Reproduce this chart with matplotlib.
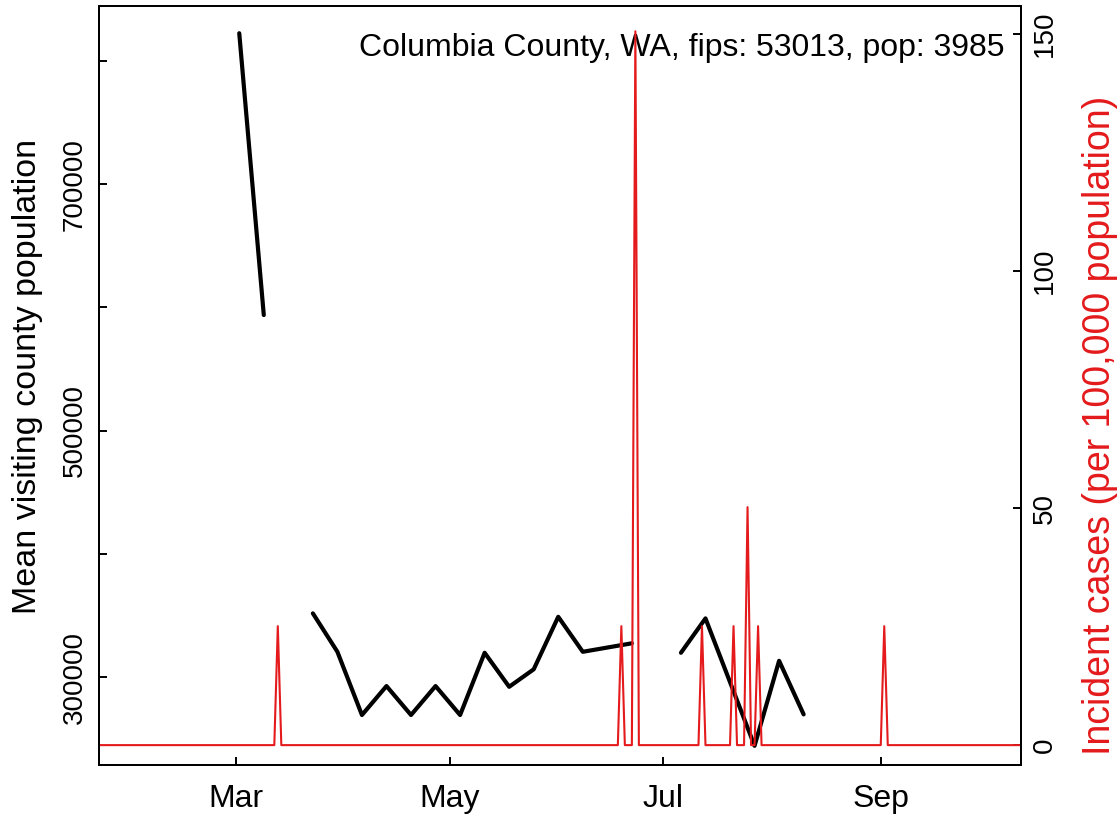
import numpy as np
import matplotlib
matplotlib.use('Agg')
import matplotlib.pyplot as plt

plt.rcParams['font.family'] = ['Liberation Sans', 'DejaVu Sans']
plt.rcParams['font.size'] = 20

# weekly mean visiting county population (NaN = gap in line)
visit_dates = ['2020-03-02', '2020-03-09', '2020-03-16', '2020-03-23', '2020-03-30',
               '2020-04-06', '2020-04-13', '2020-04-20', '2020-04-27', '2020-05-04',
               '2020-05-11', '2020-05-18', '2020-05-25', '2020-06-01', '2020-06-08',
               '2020-06-22', '2020-06-29', '2020-07-06', '2020-07-13', '2020-07-27',
               '2020-08-03', '2020-08-10']
visit_pop = [822500, 593800, np.nan, 351700, 320500,
             269200, 292700, 269200, 292700, 269200,
             319700, 292100, 306300, 348900, 320500,
             327400, np.nan, 319700, 347600, 244200,
             313200, 269700]

# daily incident cases per 100,000 (zero except on these days)
case_start = '2020-01-22'
case_end = '2020-10-11'
spike_dates = ['2020-03-13', '2020-06-19', '2020-06-23', '2020-07-12',
               '2020-07-21', '2020-07-25', '2020-07-28', '2020-09-02']
spike_vals = [25.09, 25.09, 150.56, 25.09, 25.09, 50.19, 25.09, 25.09]

month_ticks = ['2020-03-01', '2020-05-01', '2020-07-01', '2020-09-01']
month_labels = ['Mar', 'May', 'Jul', 'Sep']
left_ticks = [300000, 400000, 500000, 600000, 700000, 800000]
left_labels = ['300000', '', '500000', '', '700000', '']
right_ticks = [0, 50, 100, 150]

red = '#E41A1C'

vd = np.array(visit_dates, dtype='datetime64[D]')
cd = np.arange(np.datetime64(case_start), np.datetime64(case_end) + 1)
cases = np.zeros(len(cd))
for d, v in zip(spike_dates, spike_vals):
    cases[cd == np.datetime64(d)] = v

fig = plt.figure(figsize=(11.19, 8.22), dpi=100)
ax = fig.add_axes([0.0885, 0.0693, 0.8239, 0.9234])
ax.plot(vd, visit_pop, color='black', lw=3, solid_capstyle='round')
ax.set_ylim(228600, 844600)
ax.set_xlim(cd[0], cd[-1])
ax.set_yticks(left_ticks)
ax.set_yticklabels(left_labels, rotation=90, va='center')
ax.set_xticks(np.array(month_ticks, dtype='datetime64[D]'))
ax.set_xticklabels(month_labels, fontsize=23)
ax.set_ylabel('Mean visiting county population', fontsize=24.5)
ax.yaxis.set_label_coords(-0.061, 0.5125)
ax.tick_params(direction='in', length=6, width=1.4, pad=8)
ax.tick_params(axis='x', pad=14)
ax.text(0.9826, 0.945, 'Columbia County, WA, fips: 53013, pop: 3985',
        transform=ax.transAxes, ha='right', va='center', fontsize=23)

ax2 = ax.twinx()
ax2.plot(cd, cases, color=red, lw=1.5)
ax2.set_ylim(-4.2, 155.9)
ax2.set_yticks(right_ticks)
ax2.set_yticklabels([str(t) for t in right_ticks], rotation=90, va='center')
ax2.set_ylabel('Incident cases (per 100,000 population)', color=red, fontsize=27)
ax2.yaxis.set_label_coords(1.066, 0.448)
ax2.tick_params(direction='in', length=6, width=1.4, pad=8)

for a in (ax, ax2):
    for s in a.spines.values():
        s.set_linewidth(1.4)

fig.savefig('out.png', dpi=100)
